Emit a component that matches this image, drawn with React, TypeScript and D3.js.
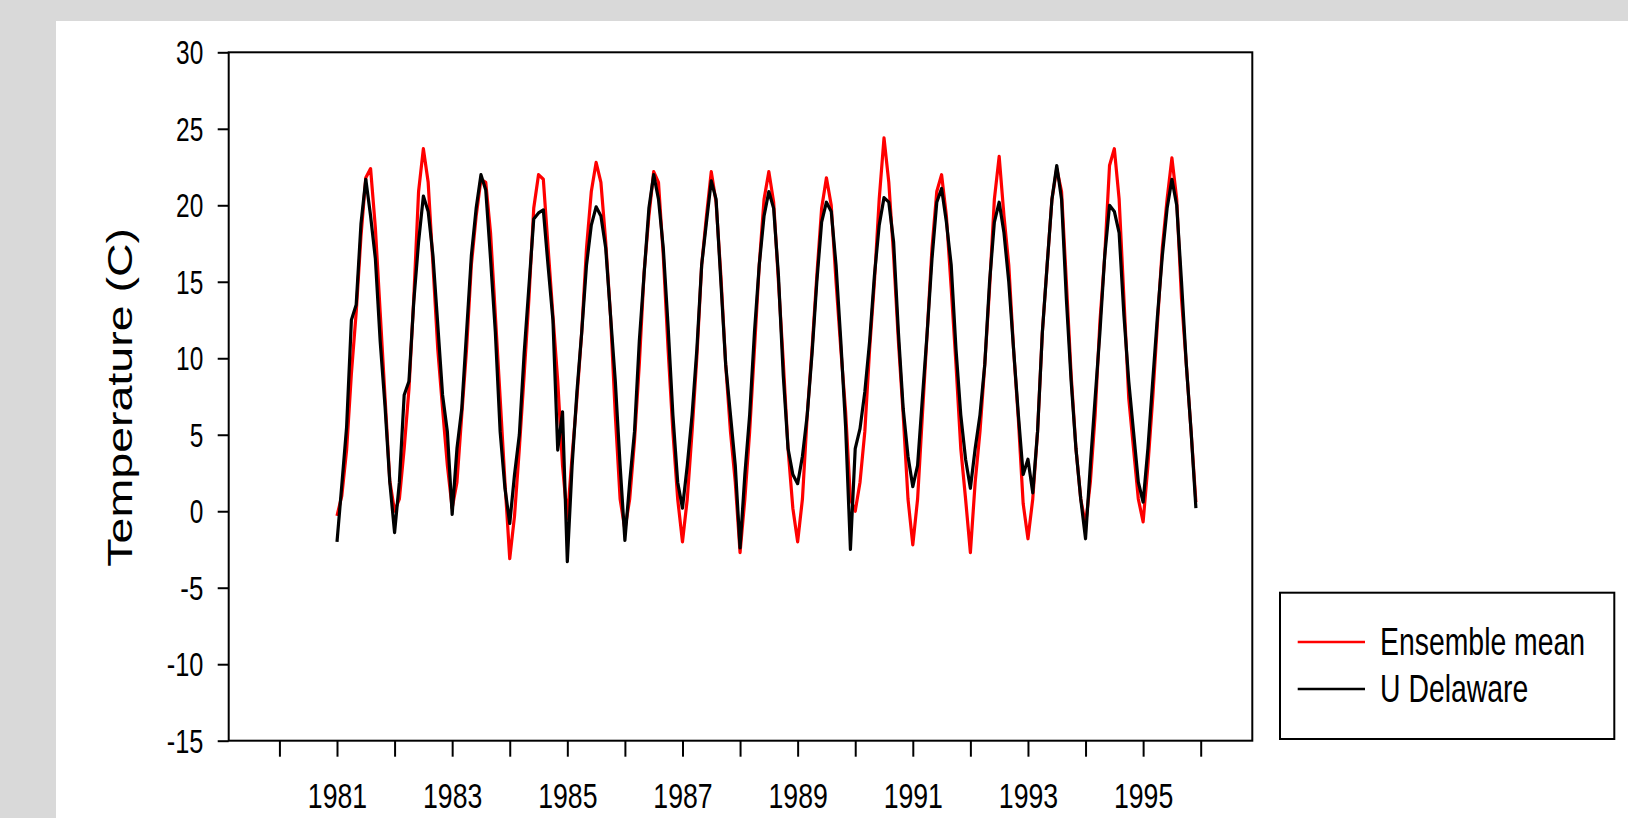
import React, { useEffect, useRef } from 'react';
import * as d3 from 'd3';

// monthly values, Jan 1981 .. Dec 1995 (12 per row)
const ensembleMean = [
  -0.3, 1.0, 4.0, 9.0, 13.0, 18.0, 21.8, 22.4, 18.5, 13.0, 7.5, 2.0,
  0.0, 0.8, 4.1, 8.0, 13.9, 20.9, 23.7, 21.5, 16.1, 10.6, 6.7, 3.0,
  0.2, 1.9, 6.3, 10.6, 16.1, 19.3, 21.7, 21.5, 18.2, 12.8, 7.4, 1.9,
  -3.1, -0.3, 4.1, 8.9, 13.9, 19.8, 22.0, 21.7, 17.2, 12.8, 8.5, 3.0,
  -0.5, 3.6, 7.4, 11.7, 17.2, 20.9, 22.8, 21.5, 17.6, 12.8, 6.3, 0.8,
  -1.2, 0.8, 4.6, 9.6, 15.6, 19.3, 22.2, 21.5, 16.7, 10.6, 5.2, 0.8,
  -2.0, 0.8, 5.2, 10.1, 16.1, 19.3, 22.2, 20.2, 15.4, 9.6, 5.2, 1.9,
  -2.7, 0.8, 5.2, 10.6, 16.1, 20.4, 22.2, 20.2, 15.0, 9.8, 4.1, 0.2,
  -2.0, 0.8, 6.3, 10.6, 15.4, 19.8, 21.8, 20.0, 15.0, 10.6, 6.5, 0.8,
  0.0, 1.9, 5.2, 10.6, 15.0, 20.4, 24.4, 21.5, 16.7, 11.1, 6.3, 0.8,
  -2.2, 0.8, 6.3, 11.7, 17.2, 20.9, 22.0, 19.3, 14.6, 9.6, 4.1, 0.8,
  -2.7, 1.9, 5.2, 9.6, 14.6, 20.4, 23.2, 19.3, 16.1, 10.6, 6.0, 0.5,
  -1.8, 0.8, 5.2, 11.7, 16.1, 20.4, 22.4, 20.9, 15.0, 8.9, 4.1, 0.8,
  -0.9, 1.9, 6.3, 12.4, 16.7, 22.6, 23.7, 20.4, 13.9, 7.4, 4.1, 0.8,
  -0.7, 3.0, 7.4, 12.4, 17.2, 20.4, 23.1, 20.4, 13.9, 9.6, 5.2, 0.6,
];

const uDelaware = [
  -2.0, 1.7, 5.5, 12.5, 13.5, 18.8, 21.7, 19.3, 16.5, 11.1, 6.9, 1.9,
  -1.4, 1.9, 7.6, 8.5, 13.7, 17.6, 20.6, 19.6, 16.7, 12.2, 7.6, 5.2,
  -0.2, 4.1, 6.7, 11.7, 16.7, 19.8, 22.0, 21.0, 16.5, 11.7, 5.2, 1.5,
  -0.8, 2.4, 5.0, 10.3, 14.7, 19.1, 19.5, 19.7, 16.0, 12.5, 4.0, 6.5,
  -3.3, 3.0, 7.8, 11.7, 16.1, 18.7, 19.9, 19.3, 17.2, 12.8, 8.5, 3.0,
  -1.9, 1.9, 5.2, 11.1, 15.5, 19.8, 22.0, 20.4, 17.2, 12.1, 6.3, 1.9,
  0.2, 3.0, 6.3, 10.6, 16.1, 18.9, 21.6, 20.4, 15.0, 9.6, 6.3, 3.0,
  -2.4, 2.4, 6.3, 11.7, 16.1, 19.3, 20.9, 19.8, 15.4, 8.9, 4.1, 2.4,
  1.8, 3.6, 6.3, 10.3, 15.0, 18.9, 20.2, 19.6, 16.1, 11.1, 5.5, -2.5,
  4.1, 5.4, 7.8, 11.1, 15.4, 18.7, 20.5, 20.2, 17.6, 11.7, 6.7, 3.6,
  1.6, 3.0, 7.4, 11.7, 16.5, 20.2, 21.1, 18.9, 16.1, 10.6, 6.3, 3.4,
  1.5, 4.1, 6.3, 9.6, 15.0, 18.9, 20.2, 18.2, 15.0, 10.6, 6.3, 2.4,
  3.4, 1.2, 5.2, 11.7, 16.1, 20.4, 22.6, 20.4, 13.9, 8.5, 4.1, 0.8,
  -1.8, 3.0, 7.4, 11.7, 16.7, 20.0, 19.6, 18.2, 12.8, 8.5, 5.2, 1.9,
  0.6, 4.1, 8.5, 12.8, 16.7, 19.8, 21.7, 20.0, 15.0, 9.6, 5.2, 0.2,
];

const startYear = 1981;
const yTicks = [30, 25, 20, 15, 10, 5, 0, -5, -10, -15];
const xTicks = [1980, 1981, 1982, 1983, 1984, 1985, 1986, 1987, 1988, 1989, 1990, 1991, 1992, 1993, 1994, 1995, 1996];
const xLabels = [1981, 1983, 1985, 1987, 1989, 1991, 1993, 1995];
const seriesNames = ['Ensemble mean', 'U Delaware'];
const seriesColors = ['#ff0000', '#000000'];

const FONT = '"Liberation Sans", Arial, sans-serif';

const App = () => {
  const svgRef = useRef(null);
  const width = 1628;
  const height = 818;

  useEffect(() => {
    const svg = d3.select(svgRef.current);
    svg.selectAll('*').remove();

    svg.append('rect').attr('width', width).attr('height', height).attr('fill', '#d9d9d9');
    svg.append('rect').attr('x', 56).attr('y', 21).attr('width', width - 56).attr('height', height - 21).attr('fill', '#fff');

    const plot = { left: 228.7, right: 1252.3, top: 52.3, bottom: 740.7 };

    const x = d3.scaleLinear().domain([1981, 1996]).range([337, 1200.7]);
    const y = d3.scaleLinear().domain([-15, 30]).range([plot.bottom, plot.top]);

    // y axis
    const yAxis = svg
      .append('g')
      .attr('transform', `translate(${plot.left},0)`)
      .call(
        d3.axisLeft(y)
          .tickValues(yTicks)
          .tickSize(11)
          .tickPadding(14.4)
          .tickFormat(d => String(d))
      );
    yAxis.select('.domain').remove();
    yAxis.selectAll('line').attr('stroke', '#000').attr('stroke-width', 2);
    yAxis
      .selectAll('text')
      .attr('font-family', FONT)
      .attr('font-size', 34)
      .attr('fill', '#000')
      .attr('dy', '0.34em')
      .attr('lengthAdjust', 'spacingAndGlyphs')
      .attr('textLength', d => {
        const s = String(d);
        return s.replace('-', '').length * 13.6 + (s.startsWith('-') ? 9.4 : 0);
      });

    // x axis
    const xAxis = svg
      .append('g')
      .attr('transform', `translate(0,${plot.bottom})`)
      .call(
        d3.axisBottom(x)
          .tickValues(xTicks)
          .tickSize(16)
          .tickFormat(d => (xLabels.includes(d) ? String(d) : ''))
      );
    xAxis.select('.domain').remove();
    xAxis.selectAll('line').attr('stroke', '#000').attr('stroke-width', 2);
    xAxis
      .selectAll('text')
      .filter(d => xLabels.includes(d))
      .attr('font-family', FONT)
      .attr('font-size', 35)
      .attr('fill', '#000')
      .attr('y', 67.6)
      .attr('dy', 0)
      .attr('lengthAdjust', 'spacingAndGlyphs')
      .attr('textLength', 59.3);

    // plot frame
    svg
      .append('rect')
      .attr('x', plot.left)
      .attr('y', plot.top)
      .attr('width', plot.right - plot.left)
      .attr('height', plot.bottom - plot.top)
      .attr('fill', 'none')
      .attr('stroke', '#000')
      .attr('stroke-width', 2);

    // series
    const line = d3
      .line()
      .x((d, i) => x(startYear + i / 12))
      .y(d => y(d));

    [ensembleMean, uDelaware].forEach((values, k) => {
      svg
        .append('path')
        .datum(values)
        .attr('fill', 'none')
        .attr('stroke', seriesColors[k])
        .attr('stroke-width', 3.2)
        .attr('stroke-linejoin', 'round')
        .attr('d', line);
    });

    // y title
    svg
      .append('text')
      .attr('transform', 'translate(131.7,397.3) rotate(-90)')
      .attr('text-anchor', 'middle')
      .attr('font-family', FONT)
      .attr('font-size', 35)
      .attr('lengthAdjust', 'spacingAndGlyphs')
      .attr('textLength', 338.7)
      .text('Temperature (C)');

    // legend
    const legend = svg.append('g');
    legend
      .append('rect')
      .attr('x', 1280)
      .attr('y', 592.7)
      .attr('width', 334.3)
      .attr('height', 146.3)
      .attr('fill', '#fff')
      .attr('stroke', '#000')
      .attr('stroke-width', 2);

    seriesNames.forEach((name, k) => {
      const ly = 642 + k * 47;
      legend
        .append('line')
        .attr('x1', 1297.7)
        .attr('x2', 1365)
        .attr('y1', ly)
        .attr('y2', ly)
        .attr('stroke', seriesColors[k])
        .attr('stroke-width', 2.5);
      // narrow, tall lettering: normal-width font stretched vertically
      legend
        .append('text')
        .attr('transform', `translate(1380,${ly + 13}) scale(1,1.34)`)
        .attr('font-family', FONT)
        .attr('font-size', 28.4)
        .text(name);
    });
  }, []);

  return (
    <div style={{ position: 'absolute', left: 0, top: 0 }}>
      <svg ref={svgRef} width={width} height={height} style={{ display: 'block' }} />
    </div>
  );
};

export default App;
